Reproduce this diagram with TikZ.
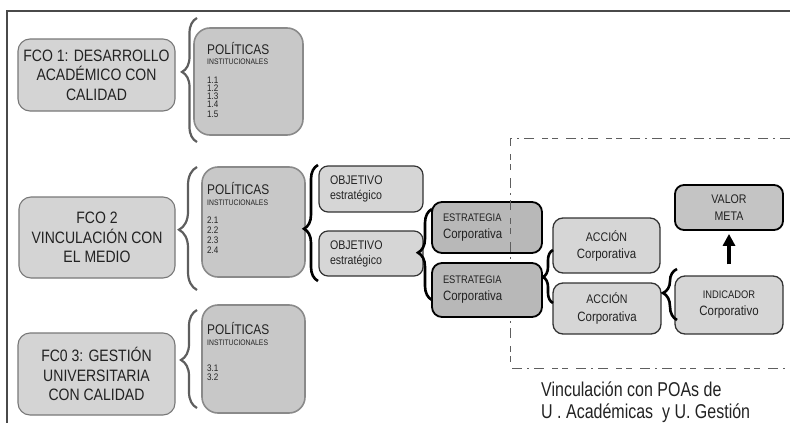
\documentclass[tikz,border=0pt]{standalone}
\usepackage{fontspec}
\setmainfont[FakeStretch=0.85]{Liberation Sans}
\newfontfamily\capfont[FakeStretch=0.8]{Liberation Sans}
\usetikzlibrary{decorations.pathreplacing,arrows.meta}
\newcommand\setfs[2]{\fontsize{#1}{#2}\selectfont}

\definecolor{ink}{HTML}{222222}
\definecolor{fcofill}{HTML}{D4D4D4}
\definecolor{fcoline}{HTML}{787878}
\definecolor{polfill}{HTML}{C8C8C8}
\definecolor{polline}{HTML}{8A8A8A}
\definecolor{objfill}{HTML}{D6D6D6}
\definecolor{estfill}{HTML}{B8B8B8}
\definecolor{valfill}{HTML}{C4C4C4}
\definecolor{dk}{HTML}{333333}
\definecolor{brgray}{HTML}{5E5E5E}
\definecolor{framegray}{HTML}{4A4A4A}

\begin{document}
\begin{tikzpicture}[x=1pt,y=-1pt,
  fcobox/.style={draw=fcoline, fill=fcofill, line width=1.1pt, rounded corners=12pt,
    align=center, text=ink, inner sep=0pt, font=\setfs{16.5}{19.5}},
  polbox/.style={draw=polline, fill=polfill, line width=1.6pt, rounded corners=16pt, inner sep=0pt},
  objbox/.style={draw=dk, fill=objfill, line width=1.2pt, rounded corners=9pt,
    align=left, text=ink, inner xsep=11pt, inner ysep=0pt, font=\setfs{12.5}{15}},
  estbox/.style={draw=black, fill=estfill, line width=1.8pt, rounded corners=10pt,
    align=left, text=ink, inner xsep=11pt, inner ysep=0pt, font=\setfs{13.5}{17}},
  accbox/.style={draw=dk, fill=objfill, line width=1.3pt, rounded corners=10pt,
    align=center, text=ink, inner sep=0pt, font=\setfs{13.5}{17}},
  valbox/.style={draw=black, fill=valfill, line width=1.8pt, rounded corners=9pt,
    align=center, text=ink, inner sep=0pt, font=\setfs{12.5}{17}},
  lbl/.style={anchor=west, inner sep=0pt, text=ink, align=left},
  graybrace/.style={decorate, decoration={brace}, draw=brgray, line width=2.2pt},
  darkbrace/.style={decorate, decoration={brace}, draw=black, line width=2.6pt},
  regionline/.style={draw=brgray, line width=1pt,
    dash pattern=on 10pt off 5pt on 2pt off 5pt on 10pt off 8pt on 6pt off 4pt on 6pt off 8pt},
  frameline/.style={draw=framegray, line width=1.4pt}
]
\useasboundingbox (0,0) rectangle (790,423);

% outer frame (top and left sides)
\draw[frameline] (790,11) -- (7,11) -- (7,423);

% ---------- strategic focus boxes ----------
\node[fcobox, minimum width=157pt, minimum height=72pt] (fco1) at (96.5,75)
  {FCO 1: DESARROLLO\\ACADÉMICO CON\\CALIDAD};
\node[fcobox, minimum width=156pt, minimum height=81pt] (fco2) at (97,237.5)
  {FCO 2\\VINCULACIÓN CON\\EL MEDIO};
\node[fcobox, minimum width=157pt, minimum height=82pt] (fco3) at (96.5,374)
  {FC0 3: GESTIÓN\\UNIVERSITARIA\\CON CALIDAD};

% ---------- institutional policies ----------
\node[polbox, minimum width=109pt, minimum height=107pt] (pol1) at (248.5,81.5) {};
\node[polbox, minimum width=103pt, minimum height=110pt] (pol2) at (253.5,222) {};
\node[polbox, minimum width=103pt, minimum height=108pt] (pol3) at (253.5,359) {};

\node[lbl, font=\setfs{14}{16}] (p1a) at (207,48) {POLÍTICAS};
\node[lbl, font=\setfs{8}{8}] (p1b) at (207,62) {INSTITUCIONALES};
\node[lbl, font=\setfs{9.5}{8}] (p1c) at (207,97) {1.1\\1.2\\1.3\\1.4\\[2pt]1.5};

\node[lbl, font=\setfs{14}{16}] (p2a) at (207,188) {POLÍTICAS};
\node[lbl, font=\setfs{8}{8}] (p2b) at (207,203) {INSTITUCIONALES};
\node[lbl, font=\setfs{9.5}{10}] (p2c) at (207,235) {2.1\\2.2\\2.3\\2.4};

\node[lbl, font=\setfs{14}{16}] (p3a) at (207,328) {POLÍTICAS};
\node[lbl, font=\setfs{8}{8}] (p3b) at (207,343) {INSTITUCIONALES};
\node[lbl, font=\setfs{9.5}{9}] (p3c) at (207,372.5) {3.1\\3.2};

% braces from each focus to its policies
\draw[graybrace, decoration={amplitude=15pt, aspect=0.565}] (197,142) -- (197,18);
\draw[graybrace, decoration={amplitude=18pt, aspect=0.49}] (197,290) -- (197,167);
\draw[graybrace, decoration={amplitude=16pt, aspect=0.49}] (197,408) -- (197,310);

% ---------- objectives ----------
\node[objbox, text width=82pt, minimum height=46pt] (obj1) at (371,189)
  {OBJETIVO\\estratégico};
\node[objbox, text width=82pt, minimum height=45pt] (obj2) at (371,253.5)
  {OBJETIVO\\estratégico};
\draw[darkbrace, decoration={amplitude=14pt, aspect=0.45}] (318,281) -- (318,165);

% ---------- strategies ----------
\node[estbox, text width=88pt, minimum height=51pt] (est1) at (487,227.5)
  {{\setfs{11}{17}ESTRATEGIA}\\Corporativa};
\draw[darkbrace, decoration={amplitude=14pt, aspect=0.52}] (432,300) -- (432,209);

% region of the operating plans
\draw[regionline] (790,138) -- (510,138) -- (510,368) -- (790,368);

\node[estbox, text width=88pt, minimum height=54pt] (est2) at (487,290)
  {{\setfs{11}{17}ESTRATEGIA}\\Corporativa};

% ---------- actions ----------
\node[accbox, minimum width=107pt, minimum height=55pt] (acc1) at (606.5,245.5)
  {\setfs{12.5}{17}ACCIÓN\\\setfs{13.5}{17}Corporativa};
\node[accbox, minimum width=108pt, minimum height=51pt] (acc2) at (607,308.5)
  {\setfs{12.5}{18}ACCIÓN\\[1pt]\setfs{13.5}{18}Corporativa};
\draw[darkbrace, decoration={amplitude=10pt, aspect=0.49}] (553,303) -- (553,250);

% ---------- indicator and target ----------
\node[accbox, minimum width=108pt, minimum height=58pt] (ind) at (729,305)
  {\setfs{11}{16}INDICADOR\\\setfs{13.5}{16}Corporativo};
\node[valbox, minimum width=108pt, minimum height=45pt] (val) at (729,207.5)
  {VALOR\\META};
\draw[darkbrace, decoration={amplitude=14pt, aspect=0.53}] (677,320) -- (677,269);

\draw[line width=3.5pt, -{Triangle[length=12pt,width=12pt]},
  shorten <=11pt, shorten >=3pt] (ind.north) -- (val.south);

% caption of the region
\node[inner sep=0pt, anchor=base west, text=ink, font=\capfont\setfs{20}{23}] (cap1) at (541,396)
  {Vinculación con POAs de};
\node[inner sep=0pt, anchor=base west, text=ink, font=\capfont\setfs{20}{23}] (cap2) at (541,418)
  {U . Académicas~ y U. Gestión};

\end{tikzpicture}
\end{document}
